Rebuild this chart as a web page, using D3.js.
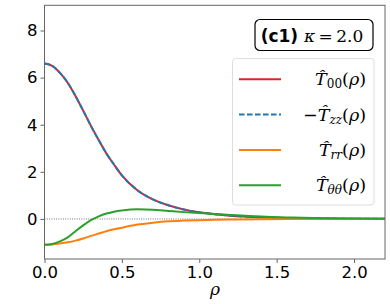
<!DOCTYPE html>
<html><head><meta charset="utf-8">
<script src="https://cdn.jsdelivr.net/npm/d3@7"></script>
<style>body{margin:0;background:#fff}</style>
</head><body><svg id="c" width="390" height="304"></svg>
<script>
const rho = [0,0.05,0.1,0.15,0.2,0.25,0.3,0.35,0.4,0.45,0.5,0.6,0.7,0.8,0.9,1.0,1.1,1.2,1.4,1.6,1.8,2.0,2.2];
const T00 = [6.6,6.5,6.2,5.78,5.22,4.6,3.95,3.35,2.78,2.3,1.85,1.22,0.83,0.58,0.4,0.28,0.2,0.14,0.07,0.035,0.018,0.01,0.005];
const Tzz = [6.6,6.5,6.2,5.78,5.22,4.6,3.95,3.35,2.78,2.3,1.85,1.22,0.83,0.58,0.4,0.28,0.2,0.14,0.07,0.035,0.018,0.01,0.005]; // -T_zz
const Trr = [-1.1,-1.08,-1.04,-0.99,-0.92,-0.83,-0.72,-0.62,-0.52,-0.44,-0.37,-0.24,-0.16,-0.1,-0.07,-0.05,-0.035,-0.025,-0.012,-0.006,-0.003,-0.002,-0.001];
const Ttt = [-1.1,-1.06,-0.95,-0.78,-0.52,-0.27,-0.05,0.11,0.23,0.31,0.36,0.41,0.39,0.34,0.29,0.25,0.21,0.17,0.1,0.06,0.03,0.015,0.008];
const xTicks = [0,0.5,1.0,1.5,2.0];
const yTicks = [0,2,4,6,8];
const subs = ["00","zz","rr","θθ"];

const svg = d3.select("#c");
const L=44.5, R=385, T=5.3, B=259;
const x = d3.scaleLinear().domain([0,2.2]).range([L,R]);
const y = d3.scaleLinear().domain([-1.7,9.07]).range([B,T]);

svg.append("line").attr("x1",L).attr("x2",R).attr("y1",y(0)).attr("y2",y(0))
  .attr("stroke","#555").attr("stroke-width",0.8).attr("stroke-dasharray","1,1.3");

const line = arr => d3.line().x((d,i)=>x(rho[i])).y(d=>y(d)).curve(d3.curveMonotoneX)(arr);
const series = [
  {v:T00, c:"#d62728", dash:null},
  {v:Tzz, c:"#1f77b4", dash:"5.5,2.5"},
  {v:Trr, c:"#ff7f0e", dash:null},
  {v:Ttt, c:"#2ca02c", dash:null}
];
series.forEach(s=>{
  svg.append("path").attr("d",line(s.v)).attr("fill","none").attr("stroke",s.c)
   .attr("stroke-width",2).attr("stroke-dasharray",s.dash);
});

const ax = svg.append("g").attr("transform",`translate(0,${B})`)
  .call(d3.axisBottom(x).tickValues(xTicks).tickFormat(d3.format(".1f")).tickSizeOuter(0).tickSize(4).tickPadding(3));
const ay = svg.append("g").attr("transform",`translate(${L},0)`)
  .call(d3.axisLeft(y).tickValues(yTicks).tickFormat(d3.format("d")).tickSizeOuter(0).tickSize(4).tickPadding(3));
[ax,ay].forEach(a=>{
  a.selectAll("text").attr("font-family","DejaVu Sans").attr("font-size",16.5).attr("fill","#000");
  a.selectAll("line").attr("stroke","#666");
  a.select(".domain").remove();
});
svg.append("rect").attr("x",L).attr("y",T).attr("width",R-L).attr("height",B-T)
  .attr("fill","none").attr("stroke","#666").attr("stroke-width",1);

svg.append("text").attr("x",215).attr("y",295).attr("text-anchor","middle")
  .attr("font-family","DejaVu Serif").attr("font-style","italic").attr("font-size",17).text("ρ");

// title box
svg.append("rect").attr("x",255).attr("y",19.5).attr("width",118).attr("height",31).attr("rx",5)
  .attr("fill","#fff").attr("stroke","#000").attr("stroke-width",1.2);
const tt = svg.append("text").attr("x",312).attr("y",42).attr("text-anchor","middle").attr("font-size",17);
tt.append("tspan").attr("font-family","DejaVu Sans").attr("font-weight","bold").text("(c1) ");
tt.append("tspan").attr("font-family","DejaVu Serif").attr("font-style","italic").text("κ");
tt.append("tspan").attr("font-family","DejaVu Serif").text("\u2009=\u20092.0");

// legend
svg.append("rect").attr("x",232.5).attr("y",58.5).attr("width",141.5).attr("height",146.5).attr("rx",3)
  .attr("fill","#fff").attr("fill-opacity",0.8).attr("stroke","#ddd").attr("stroke-width",1);
const rows = [79.3,114.6,149.9,185.2];
series.forEach((s,i)=>{
  svg.append("line").attr("x1",239).attr("x2",281).attr("y1",rows[i]).attr("y2",rows[i])
    .attr("stroke",s.c).attr("stroke-width",2).attr("stroke-dasharray",s.dash);
  const t = svg.append("text").attr("x",366).attr("y",rows[i]+6).attr("text-anchor","end")
    .attr("font-family","DejaVu Serif").attr("font-size",17.5);
  if(i===1) t.append("tspan").text("−");
  t.append("tspan").attr("font-style","italic").text("T\u0302");
  t.append("tspan").attr("font-size",12).attr("dy",3).attr("font-style", i===0?"normal":"italic").text(subs[i]);
  t.append("tspan").attr("dy",-3).text("(");
  t.append("tspan").attr("font-style","italic").text("ρ");
  t.append("tspan").text(")");
});
</script></body></html>
